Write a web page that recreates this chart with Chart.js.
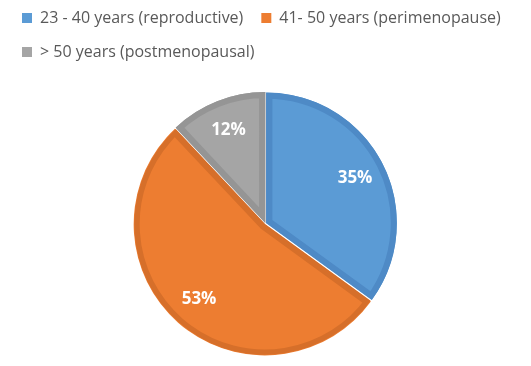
<!DOCTYPE html>
<html>
<head>
<meta charset="utf-8">
<script src="https://cdn.jsdelivr.net/npm/chart.js@4.4.1/dist/chart.umd.min.js"></script>
<style>
  html, body { margin: 0; padding: 0; background: #fff; }
  #wrap { width: 531px; height: 366px; }
</style>
</head>
<body>
<div id="wrap"><canvas id="ageChart" width="531" height="366"></canvas></div>
<script>
// age groups and their share (%)
const categories = ['23 - 40 years (reproductive)', '41- 50 years (perimenopause)', '> 50 years (postmenopausal)'];
const shares = [35, 53, 12];
const fillColors = ['#5B9BD5', '#ED7D31', '#A5A5A5'];
const edgeColors = ['#4E8AC6', '#D66F2A', '#959595'];

// draw the percentage inside each slice
const sliceLabels = {
  id: 'sliceLabels',
  afterDatasetsDraw(chart) {
    const ctx = chart.ctx;
    const meta = chart.getDatasetMeta(0);
    ctx.save();
    ctx.fillStyle = '#fff';
    ctx.font = 'bold 17px "Open Sans", sans-serif';
    ctx.textAlign = 'center';
    ctx.textBaseline = 'middle';
    meta.data.forEach((arc, i) => {
      const p = arc.getProps(['x', 'y', 'startAngle', 'endAngle', 'outerRadius'], true);
      const mid = (p.startAngle + p.endAngle) / 2;
      const r = p.outerRadius * 0.77;
      ctx.fillText(shares[i] + '%', p.x + Math.cos(mid) * r, p.y + Math.sin(mid) * r);
    });
    ctx.restore();
  }
};

// extra space between legend and pie
const legendGap = {
  id: 'legendGap',
  afterInit(chart) {
    const fit = chart.legend.fit;
    chart.legend.fit = function () {
      fit.bind(chart.legend)();
      this.height += 21;
    };
  }
};

const baseLabels = Chart.overrides.pie.plugins.legend.labels.generateLabels;

new Chart(document.getElementById('ageChart'), {
  type: 'pie',
  data: {
    labels: categories,
    datasets: [{
      data: shares,
      backgroundColor: fillColors,
      borderColor: edgeColors,
      borderWidth: 6,
      borderAlign: 'inner',
      offset: 4,
      hoverOffset: 0
    }]
  },
  options: {
    responsive: false,
    animation: false,
    layout: { padding: { top: -8, bottom: 10, left: 4, right: 4 } },
    plugins: {
      legend: {
        position: 'top',
        align: 'start',
        labels: {
          boxWidth: 10,
          boxHeight: 10,
          padding: 18,
          color: '#595959',
          font: { family: '"Open Sans", sans-serif', size: 16 },
          // plain filled squares, no outline
          generateLabels(chart) {
            return baseLabels(chart).map(item => Object.assign(item, { lineWidth: 0, strokeStyle: item.fillStyle }));
          }
        }
      },
      tooltip: { enabled: false }
    }
  },
  plugins: [sliceLabels, legendGap]
});
</script>
</body>
</html>
